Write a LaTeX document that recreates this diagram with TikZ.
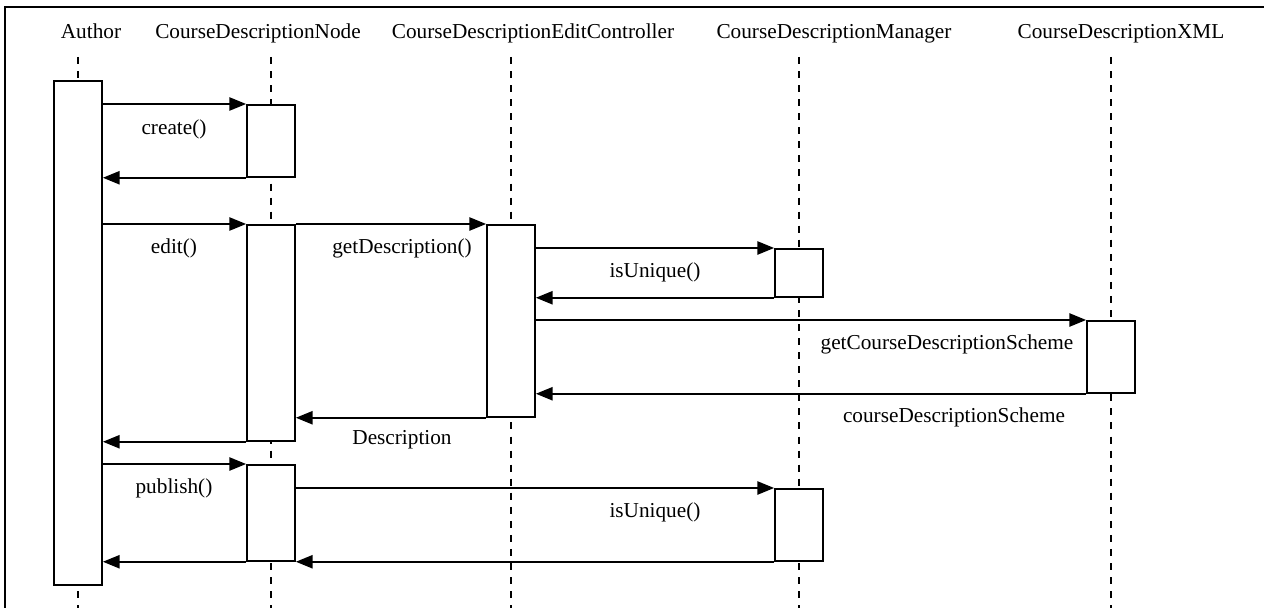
\documentclass[tikz,border=0pt]{standalone}
\usepackage{fontspec}
\setmainfont{Liberation Serif}
\usetikzlibrary{arrows.meta}

\tikzset{
  head/.style={anchor=base},
  lifeline/.style={line width=1pt, dash pattern=on 4pt off 4pt},
  activation/.style={draw, fill=white, line width=1pt, inner sep=0pt,
    minimum width=0.96cm, minimum height=#1*0.02cm, anchor=north},
  msg/.style={line width=1pt, -{Triangle[length=9.5pt,width=7.5pt]}},
}

\begin{document}
\begin{tikzpicture}[x=0.02cm, y=-0.02cm,
    every node/.append style={font=\fontsize{12.1}{14}\selectfont}]
    \useasboundingbox (0,0) rectangle (1264,608);
    \draw[line width=1.1pt] (1264,7) -| (5,608);

    % object heads
    \node[head] (authorHead) at (91,39) {Author};
    \node[head] (nodeHead) at (258,39) {CourseDescriptionNode};
    \node[head] (ctrlHead) at (533,39) {CourseDescriptionEditController};
    \node[head] (managerHead) at (834,39) {CourseDescriptionManager};
    \node[head] (xmlHead) at (1121,39) {CourseDescriptionXML};

    % lifelines
    \foreach \x in {78,271,511,799,1111}
      \draw[lifeline] (\x,57) -- (\x,608);

    % activations
    \node[activation=504] (authorBar) at (78,80) {};
    \node[activation=72] (nodeCreate) at (271,104) {};
    \node[activation=216] (nodeEdit) at (271,224) {};
    \node[activation=96] (nodePublish) at (271,464) {};
    \node[activation=192] (ctrlEdit) at (511,224) {};
    \node[activation=48] (managerCheck) at (799,248) {};
    \node[activation=72] (managerPublish) at (799,488) {};
    \node[activation=72] (xmlScheme) at (1111,320) {};

    % create
    \draw[msg] (authorBar.east |- nodeCreate.north) -- (nodeCreate.north west);
    \draw[msg] (nodeCreate.south west) -- (authorBar.east |- nodeCreate.south);
    \node at (174,129) {create()};

    % edit
    \draw[msg] (authorBar.east |- nodeEdit.north) -- (nodeEdit.north west);
    \node at (174,248) {edit()};
    \draw[msg] (nodeEdit.north east) -- (ctrlEdit.north west);
    \node at (402,248) {getDescription()};
    \draw[msg] (ctrlEdit.east |- managerCheck.north) -- (managerCheck.north west);
    \draw[msg] (managerCheck.south west) -- (ctrlEdit.east |- managerCheck.south);
    \node at (655,272) {isUnique()};
    \draw[msg] (ctrlEdit.east |- xmlScheme.north) -- (xmlScheme.north west);
    \node at (947,344) {getCourseDescriptionScheme};
    \draw[msg] (xmlScheme.south west) -- (ctrlEdit.east |- xmlScheme.south);
    \node at (954,417) {courseDescriptionScheme};
    \draw[msg] (ctrlEdit.south west) -- (nodeEdit.east |- ctrlEdit.south);
    \node at (402,440) {Description};
    \draw[msg] (nodeEdit.south west) -- (authorBar.east |- nodeEdit.south);

    % publish
    \draw[msg] (authorBar.east |- nodePublish.north) -- (nodePublish.north west);
    \node at (174,488) {publish()};
    \draw[msg] (nodePublish.east |- managerPublish.north) -- (managerPublish.north west);
    \node at (655,512) {isUnique()};
    \draw[msg] (managerPublish.south west) -- (nodePublish.east |- managerPublish.south);
    \draw[msg] (nodePublish.south west) -- (authorBar.east |- nodePublish.south);
\end{tikzpicture}
\end{document}
